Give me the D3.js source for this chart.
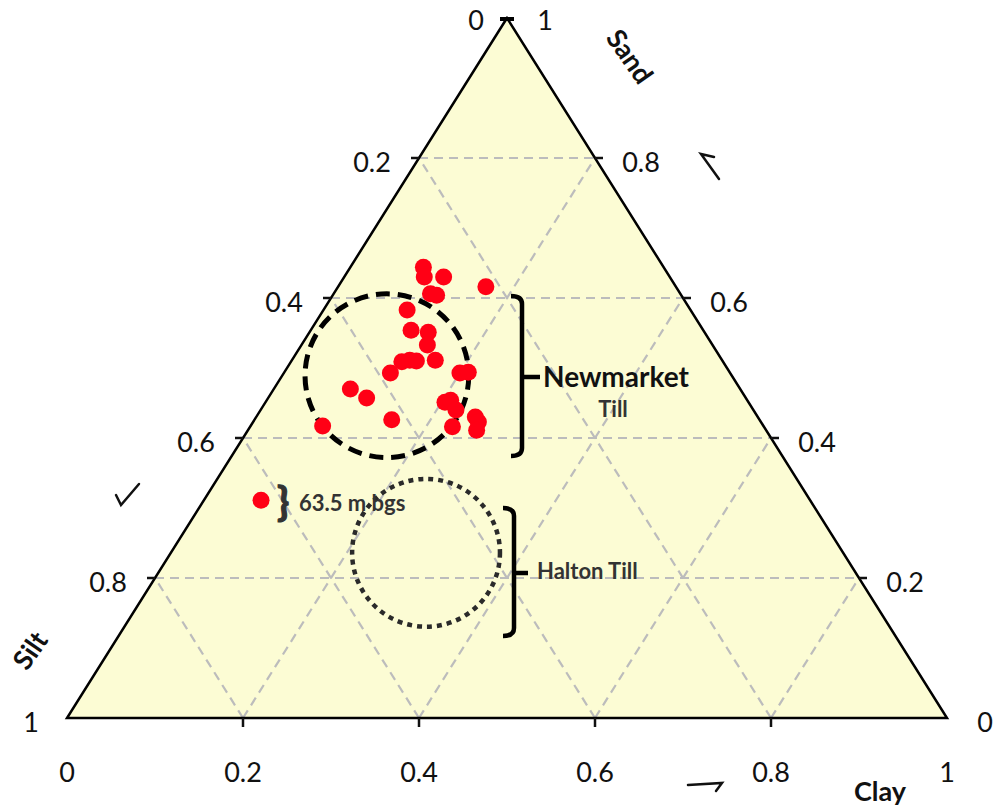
<!DOCTYPE html>
<html>
<head>
<meta charset="utf-8">
<script src="https://cdn.jsdelivr.net/npm/d3@7"></script>
<style>
  body { margin: 0; background: #fff; }
  svg { display: block; }
  text { font-family: Lato, "Open Sans", sans-serif; }
</style>
</head>
<body>
<div class="canvas"></div>
<script>
// sample compositions, fractions of sand and clay (silt = 1 - sand - clay)
const sand = [0.644, 0.630, 0.630, 0.616, 0.606, 0.604, 0.583, 0.554, 0.551, 0.533,
    0.509, 0.511, 0.510, 0.511, 0.493, 0.493, 0.494, 0.451, 0.454, 0.440,
    0.416, 0.430, 0.423, 0.411, 0.426, 0.470, 0.457, 0.417, 0.311]
const clay = [0.083, 0.091, 0.113, 0.168, 0.110, 0.118, 0.095, 0.114, 0.135, 0.143,
    0.126, 0.134, 0.142, 0.163, 0.121, 0.200, 0.209, 0.204, 0.209, 0.222,
    0.230, 0.249, 0.256, 0.260, 0.156, 0.087, 0.112, 0.082, 0.065]

const gridTicks = [0.2, 0.4, 0.6, 0.8]
const edgeLabels = ['0', '0.2', '0.4', '0.6', '0.8', '1']

// till envelopes: centre (sand, clay), radius in clay units
const tills = [
    { name: 'Newmarket', sand: 0.489, clay: 0.119, r: 0.093, dash: '14,8', width: 5 },
    { name: 'Halton', sand: 0.236, clay: 0.290, r: 0.084, dash: '5,5', width: 4.5 }
]

const dims = { width: 997, height: 810 }

const svg = d3.select('.canvas')
    .append('svg')
    .attr('width', dims.width)
    .attr('height', dims.height)

const x = d3.scaleLinear().domain([0, 1]).range([67, 947])
const y = d3.scaleLinear().domain([0, 1]).range([718, 18])

const proj = (s, c) => [x(c + s / 2), y(s)]

// triangle background
const corners = [proj(1, 0), proj(0, 0), proj(0, 1)]
svg.append('path')
    .attr('d', d3.line()(corners) + 'Z')
    .attr('fill', '#fcfcd4')

// grid
const grid = svg.append('g')
    .attr('stroke', '#bcbcbc')
    .attr('stroke-width', 2.2)
    .attr('stroke-dasharray', '9,6')
    .attr('fill', 'none')

gridTicks.forEach(t => {
    // constant sand
    grid.append('path').attr('d', d3.line()([proj(t, 0), proj(t, 1 - t)]))
    // constant clay
    grid.append('path').attr('d', d3.line()([proj(0, t), proj(1 - t, t)]))
    // constant silt
    grid.append('path').attr('d', d3.line()([proj(0, 1 - t), proj(1 - t, 0)]))
})

// outline
svg.append('path')
    .attr('d', d3.line()(corners) + 'Z')
    .attr('fill', 'none')
    .attr('stroke', '#000')
    .attr('stroke-width', 2.5)

// ticks
const ticks = svg.append('g').attr('stroke', '#111').attr('stroke-width', 2.5)
d3.range(0, 6).forEach(i => {
    const t = i / 5
    const l = proj(1 - t, 0)
    const r = proj(t, 1 - t)
    const b = proj(0, t)
    if (i > 0 && i < 5) ticks.append('line').attr('x1', l[0] - 8).attr('x2', l[0]).attr('y1', l[1]).attr('y2', l[1])
    if (i > 0 && i < 5) ticks.append('line').attr('x1', r[0]).attr('x2', r[0] + 8).attr('y1', r[1]).attr('y2', r[1])
    if (i > 0 && i < 5) ticks.append('line').attr('x1', b[0]).attr('x2', b[0]).attr('y1', b[1]).attr('y2', b[1] + 9)
})
const apex = proj(1, 0)
svg.append('line')
    .attr('x1', apex[0] - 7).attr('x2', apex[0] + 7)
    .attr('y1', apex[1] + 1).attr('y2', apex[1] + 1)
    .attr('stroke', '#000').attr('stroke-width', 4)

// tick labels
const labels = svg.append('g')
    .attr('font-size', 27)
    .attr('fill', '#111')
    .attr('text-anchor', 'middle')

edgeLabels.forEach((lab, i) => {
    const t = i / 5
    // silt along left edge (0 at apex)
    const l = proj(1 - t, 0)
    labels.append('text')
        .attr('x', l[0] - (i == 0 ? 31 : i == 5 ? 36 : 47))
        .attr('y', l[1] + (i == 0 ? 12 : 14))
        .text(lab)
    // sand along right edge (0 at bottom right)
    const r = proj(t, 1 - t)
    labels.append('text')
        .attr('x', r[0] + (i == 0 || i == 5 ? 38 : 46))
        .attr('y', r[1] + (i == 5 ? 12 : 14))
        .text(lab)
    // clay along bottom
    const b = proj(0, t)
    labels.append('text').attr('x', b[0]).attr('y', b[1] + 64).text(lab)
})

// axis titles
svg.append('text')
    .attr('transform', 'translate(622,62) rotate(55)')
    .attr('text-anchor', 'middle')
    .attr('font-size', 27).attr('font-weight', 'bold')
    .attr('fill', '#111')
    .text('Sand')
svg.append('text')
    .attr('transform', 'translate(38,656) rotate(-55)')
    .attr('text-anchor', 'middle')
    .attr('font-size', 27).attr('font-weight', 'bold')
    .attr('fill', '#111')
    .text('Silt')
svg.append('text')
    .attr('x', 880).attr('y', 801)
    .attr('text-anchor', 'middle')
    .attr('font-size', 27).attr('font-weight', 'bold')
    .attr('fill', '#111')
    .text('Clay')

// direction arrows
const arrows = svg.append('g')
    .attr('stroke', '#111').attr('stroke-width', 2.5)
    .attr('fill', 'none').attr('stroke-linecap', 'round')
arrows.append('path').attr('d', 'M719,179 L701,154 L714,157')
arrows.append('path').attr('d', 'M139,484 L121,505 L116,495')
arrows.append('path').attr('d', 'M688,785 L722,783 L716,791')

// till envelopes
tills.forEach(d => {
    const c = proj(d.sand, d.clay)
    svg.append('circle')
        .attr('cx', c[0]).attr('cy', c[1])
        .attr('r', x(d.r) - x(0))
        .attr('fill', 'none')
        .attr('stroke', d.name == 'Halton' ? '#2a2a2a' : '#000')
        .attr('stroke-width', d.width)
        .attr('stroke-dasharray', d.dash)
})

// samples
svg.append('g')
    .selectAll('circle')
    .data(sand.map((s, i) => ({ sand: s, clay: clay[i] })))
    .enter()
    .append('circle')
    .attr('cx', d => proj(d.sand, d.clay)[0])
    .attr('cy', d => proj(d.sand, d.clay)[1])
    .attr('r', 8.5)
    .attr('fill', '#ff0015')

// brackets
const bracket = (xv, y1, y2, ym, xt) => {
    svg.append('path')
        .attr('d', `M${xv - 11},${y1} Q${xv},${y1} ${xv},${y1 + 8} L${xv},${y2 - 8} Q${xv},${y2} ${xv - 11},${y2}`)
        .attr('fill', 'none').attr('stroke', '#000').attr('stroke-width', 4.5)
    svg.append('line')
        .attr('x1', xv).attr('x2', xt).attr('y1', ym).attr('y2', ym)
        .attr('stroke', '#000').attr('stroke-width', 4.5)
}
bracket(522, 296, 456, 377, 540)
bracket(514, 508, 636, 573, 528)

svg.append('text')
    .attr('x', 543).attr('y', 387)
    .attr('font-size', 28).attr('font-weight', 'bold').attr('fill', '#111')
    .text('Newmarket')
svg.append('text')
    .attr('x', 613).attr('y', 417)
    .attr('text-anchor', 'middle')
    .attr('font-size', 22).attr('font-weight', 'bold').attr('fill', '#333')
    .text('Till')
svg.append('text')
    .attr('x', 537).attr('y', 579)
    .attr('font-size', 22).attr('font-weight', 'bold').attr('fill', '#333')
    .text('Halton Till')

// deep sample note
svg.append('text')
    .attr('x', 277).attr('y', 516)
    .attr('font-size', 40).attr('font-weight', 'bold').attr('fill', '#333')
    .attr('stroke', '#333').attr('stroke-width', 1.2)
    .text('}')
svg.append('text')
    .attr('x', 299).attr('y', 511)
    .attr('font-size', 22).attr('font-weight', 'bold').attr('fill', '#333')
    .text('63.5 m bgs')
</script>
</body>
</html>
